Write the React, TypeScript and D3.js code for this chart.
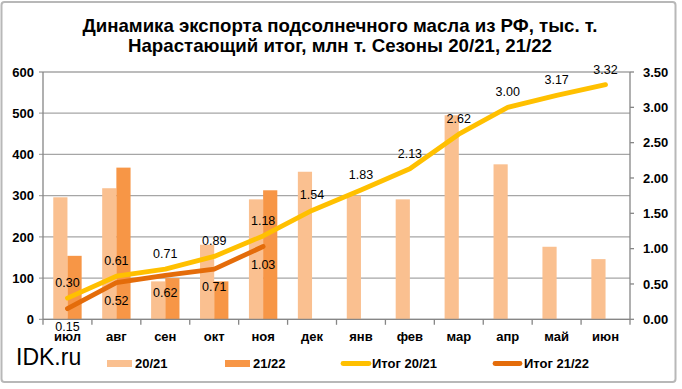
import React from "react";
import * as d3 from "d3";

const months = ["июл", "авг", "сен", "окт", "ноя", "дек", "янв", "фев", "мар", "апр", "май", "июн"];
const exp2021 = [296, 318, 92, 181, 291, 358, 300, 291, 495, 376, 176, 146];
const exp2122 = [154, 368, 100, 92, 313];
const cum2021 = [0.30, 0.61, 0.71, 0.89, 1.18, 1.54, 1.83, 2.13, 2.62, 3.00, 3.17, 3.32];
const cum2122 = [0.15, 0.52, 0.62, 0.71, 1.03];
const leftTicks = [0, 100, 200, 300, 400, 500, 600];
const rightTicks = [0, 0.5, 1, 1.5, 2, 2.5, 3, 3.5];
const titleLines = ["Динамика экспорта подсолнечного масла из РФ, тыс. т.", "Нарастающий итог, млн т. Сезоны 20/21, 21/22"];

const W = 682, H = 389;
const L = 43, R = 630, T = 72, B = 319.3;
const C_LIGHT = "#FAC090", C_DARK = "#F79646", C_Y = "#FFC000", C_O = "#E46C0A";
const FONT = "'Liberation Sans', Arial, sans-serif";

export default function App() {
  const x = d3.scaleBand<string>().domain(months).range([L, R]).padding(0);
  const yL = d3.scaleLinear().domain([0, 600]).range([B, T]);
  const yR = d3.scaleLinear().domain([0, 3.5]).range([B, T]);
  const bw = x.bandwidth() * 0.29;
  const cx = (m: string) => (x(m) as number) + x.bandwidth() / 2;
  const line = d3.line<number>().x((_, i) => cx(months[i])).y((d) => yR(d));

  return (
    <div style={{ position: "absolute", left: 0, top: 0 }}>
      <svg width={W} height={H} style={{ display: "block", fontFamily: FONT }}>
        <rect x={0} y={0} width={W} height={H} fill="#fff" />
        <rect x={1.5} y={2} width={674} height={380} fill="#fff" stroke="#B8B8B8" strokeWidth={2} rx={3} />
        {titleLines.map((t, i) => (
          <text key={i} x={340} y={i === 0 ? 31.7 : 51.5} textAnchor="middle" fontSize={19} fontWeight="bold"
            textLength={i === 0 ? 515 : 424} lengthAdjust="spacingAndGlyphs" fill="#000">{t}</text>
        ))}
        {/* gridlines */}
        {leftTicks.map((t) => (
          <line key={"g" + t} x1={L - 4} x2={R} y1={yL(t)} y2={yL(t)} stroke="#A6A6A6" strokeWidth={1.3} />
        ))}
        {/* left axis labels */}
        {leftTicks.map((t) => (
          <text key={"l" + t} x={34} y={yL(t)} dy="0.36em" textAnchor="end" fontSize={13} fontWeight="bold">{t}</text>
        ))}
        {/* right axis */}
        <line x1={R} x2={R} y1={T} y2={B} stroke="#868686" strokeWidth={1.3} />
        {rightTicks.map((t) => (
          <g key={"r" + t}>
            <line x1={R} x2={R + 4} y1={yR(t)} y2={yR(t)} stroke="#868686" strokeWidth={1.3} />
            <text x={643} y={yR(t)} dy="0.36em" fontSize={13} fontWeight="bold">{t.toFixed(2)}</text>
          </g>
        ))}
        <line x1={L} x2={L} y1={T} y2={B} stroke="#868686" strokeWidth={1.3} />
        {/* bars */}
        {exp2021.map((v, i) => (
          <rect key={"a" + i} x={cx(months[i]) - bw} y={yL(v)} width={bw} height={B - yL(v)} fill={C_LIGHT} />
        ))}
        {exp2122.map((v, i) => (
          <rect key={"b" + i} x={cx(months[i])} y={yL(v)} width={bw} height={B - yL(v)} fill={C_DARK} />
        ))}
        {/* x axis */}
        <line x1={L} x2={R} y1={B} y2={B} stroke="#868686" strokeWidth={1.3} />
        {months.map((m, i) => (
          <line key={"t" + i} x1={x(m) as number} x2={x(m) as number} y1={B} y2={B + 5.5} stroke="#868686" strokeWidth={1.3} />
        ))}
        <line x1={R} x2={R} y1={B} y2={B + 5.5} stroke="#868686" strokeWidth={1.3} />
        {months.map((m) => (
          <text key={"x" + m} x={cx(m)} y={341} textAnchor="middle" fontSize={13} fontWeight="bold">{m}</text>
        ))}
        {/* lines */}
        <path d={line(cum2021) || ""} fill="none" stroke={C_Y} strokeWidth={4.8} strokeLinecap="round" strokeLinejoin="round" />
        <path d={line(cum2122) || ""} fill="none" stroke={C_O} strokeWidth={4.8} strokeLinecap="round" strokeLinejoin="round" />
        {/* data labels */}
        {cum2021.map((v, i) => (
          <text key={"c" + i} x={cx(months[i])} y={yR(v) - 15.5} dy="0.36em" textAnchor="middle" fontSize={12.5}>{v.toFixed(2)}</text>
        ))}
        {cum2122.map((v, i) => (
          <text key={"d" + i} x={cx(months[i])} y={yR(v) + 17.5} dy="0.36em" textAnchor="middle" fontSize={12.5}>{v.toFixed(2)}</text>
        ))}
        {/* footer / legend */}
        <text x={16} y={365} fontSize={23}>IDK.ru</text>
        <rect x={107} y={360} width={25} height={7} fill={C_LIGHT} />
        <text x={135} y={368} fontSize={13} fontWeight="bold">20/21</text>
        <rect x={225} y={360} width={25} height={7} fill={C_DARK} />
        <text x={253} y={368} fontSize={13} fontWeight="bold">21/22</text>
        <line x1={343} x2={369} y1={363.5} y2={363.5} stroke={C_Y} strokeWidth={4.8} strokeLinecap="round" />
        <text x={372} y={368} fontSize={13} fontWeight="bold">Итог 20/21</text>
        <line x1={495} x2={520} y1={363.5} y2={363.5} stroke={C_O} strokeWidth={4.8} strokeLinecap="round" />
        <text x={524} y={368} fontSize={13} fontWeight="bold">Итог 21/22</text>
      </svg>
    </div>
  );
}
